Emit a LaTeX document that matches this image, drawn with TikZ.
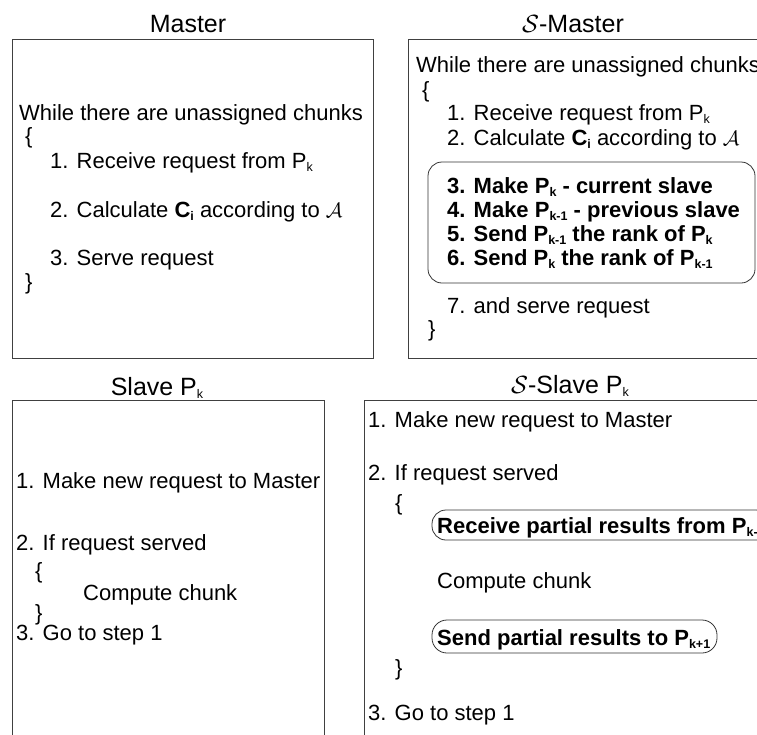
\documentclass[tikz,border=0pt]{standalone}
\usepackage{fontspec}
\setmainfont{Liberation Sans}
\newcommand{\sbk}[1]{\raisebox{-3pt}{\fontsize{12.5}{12.5}\selectfont #1}}
\begin{document}
\begin{tikzpicture}[x=1pt,y=-1pt,
  panel/.style={draw=black!75,line width=0.8pt},
  roundbox/.style={draw=black!80,line width=0.8pt,rounded corners=14pt},
  title/.style={anchor=base,inner sep=0pt,font=\fontsize{25}{30}\selectfont},
  txt/.style={anchor=base west,inner sep=0pt,font=\fontsize{22}{26}\selectfont},
  btxt/.style={anchor=base west,inner sep=0pt,font=\fontsize{22}{26}\selectfont\bfseries}]
\useasboundingbox (0,0) rectangle (757,734);
\clip (0,0) rectangle (757,734);
% panels
\draw[panel] (12,39) rectangle (373,358);
\draw[panel] (408,39) rectangle (780,358);
\draw[panel] (12,400) rectangle (324,760);
\draw[panel] (364,400) rectangle (780,760);
% titles
\node[title] (t1) at (188,32) {Master};
\node[title] (t2) at (573,32) {$\mathcal{S}$-Master};
\node[title] (t3) at (157,395) {Slave P\sbk{k}};
\node[title] (t4) at (570,393) {$\mathcal{S}$-Slave P\sbk{k}};
% Master
\node[txt] (m0) at (19,120) {While there are unassigned chunks};
\node[txt] (m1) at (25,143) {\{};
\node[txt] (m2) at (50,168) {1. Receive request from P\sbk{k}};
\node[txt] (m3) at (50,217) {2. Calculate \textbf{C\sbk{i}} according to $\mathcal{A}$};
\node[txt] (m4) at (50,265) {3. Serve request};
\node[txt] (m5) at (25,289) {\}};
% S-Master
\node[txt] (s0) at (416,72) {While there are unassigned chunks};
\node[txt] (s1) at (422,97) {\{};
\node[txt] (s2) at (447,120) {1. Receive request from P\sbk{k}};
\node[txt] (s3) at (447,145) {2. Calculate \textbf{C\sbk{i}} according to $\mathcal{A}$};
\draw[roundbox] (428,162) rectangle (755,283);
\node[btxt] (s4) at (447,193) {3. Make P\sbk{k} - current slave};
\node[btxt] (s5) at (447,217) {4. Make P\sbk{k-1} - previous slave};
\node[btxt] (s6) at (447,241) {5. Send P\sbk{k-1} the rank of P\sbk{k}};
\node[btxt] (s7) at (447,265) {6. Send P\sbk{k} the rank of P\sbk{k-1}};
\node[txt] (s8) at (447,313) {7. and serve request};
\node[txt] (s9) at (428,336) {\}};
% Slave
\node[txt] (l1) at (16,488) {1. Make new request to Master};
\node[txt] (l2) at (16,550) {2. If request served};
\node[txt] (l3) at (35,578) {\{};
\node[txt] (l4) at (83,600) {Compute chunk};
\node[txt] (l5) at (35,620) {\}};
\node[txt] (l6) at (16,640) {3. Go to step 1};
% S-Slave
\node[txt] (r1) at (368,427) {1. Make new request to Master};
\node[txt] (r2) at (368,480) {2. If request served};
\node[txt] (r3) at (395,510) {\{};
\draw[roundbox] (432,510) rectangle (770,540);
\node[btxt] (r4) at (437,533) {Receive partial results from P\sbk{k-1}};
\node[txt] (r5) at (437,588) {Compute chunk};
\draw[roundbox,rounded corners=15pt] (432,620) rectangle (717,653);
\node[btxt] (r6) at (437,645) {Send partial results to P\sbk{k+1}};
\node[txt] (r7) at (395,675) {\}};
\node[txt] (r8) at (368,720) {3. Go to step 1};
\end{tikzpicture}
\end{document}
